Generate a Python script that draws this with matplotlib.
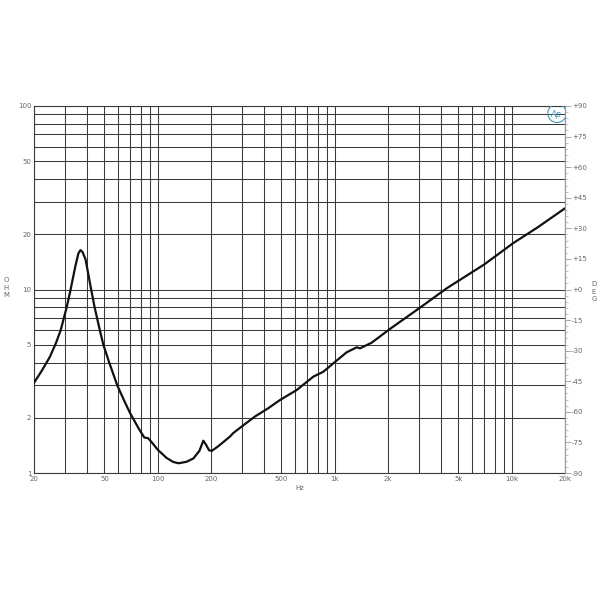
import numpy as np
import matplotlib
matplotlib.use('Agg')
import matplotlib.pyplot as plt
from matplotlib.ticker import FixedLocator, NullFormatter, MultipleLocator
from matplotlib.patches import Ellipse

# Impedance curve (Hz, ohm)
freq = [20, 22.1, 24.6, 26.6, 28.3, 29.5, 30.6, 32.2, 34.2, 35.6, 36.6,
        37.6, 39.1, 40.0, 41.9, 44.0, 47.1, 49.3, 53.2, 59.1, 65,
        70, 78, 84, 88, 92, 100, 112, 122, 131, 145, 159, 172, 181, 188, 195,
        202, 220, 256, 267, 300, 354, 420, 491, 609, 757, 861, 982, 1169, 1331,
        1390, 1617, 2053, 3000, 4290, 7000, 10200, 14000, 20000]
ohm = [3.1, 3.6, 4.3, 5.1, 6.0, 7.0, 8.0, 10.0, 13.3, 15.7, 16.4,
       16.0, 14.6, 13.0, 10.2, 8.0, 6.0, 5.0, 4.0, 3.0, 2.45,
       2.11, 1.75, 1.56, 1.55, 1.48, 1.34, 1.21, 1.15, 1.13, 1.15, 1.2,
       1.32, 1.5, 1.42, 1.33, 1.32, 1.4, 1.58, 1.65, 1.8, 2.03, 2.25, 2.5, 2.83,
       3.35, 3.56, 3.96, 4.55, 4.84, 4.78, 5.13, 6.1, 7.9, 10.15, 13.7, 17.9,
       21.8, 27.7]

# Axis ticks
x_ticks = [20, 50, 100, 200, 500, 1000, 2000, 5000, 10000, 20000]
x_labels = ['20', '50', '100', '200', '500', '1k', '2k', '5k', '10k', '20k']
y_ticks = [1, 2, 5, 10, 20, 50, 100]
y_labels = ['1', '2', '5', '10', '20', '50', '100']
deg_ticks = [90, 75, 60, 45, 30, 15, 0, -15, -30, -45, -60, -75, -90]
deg_labels = ['+90', '+75', '+60', '+45', '+30', '+15', '+0', '-15', '-30',
              '-45', '-60', '-75', '-90']

# grid positions (1-2-3...9 per decade)
x_grid = [m * 10 ** e for e in range(1, 5) for m in range(1, 10)]
x_grid = [v for v in x_grid if 20 <= v <= 20000]
y_grid = [m * 10 ** e for e in range(0, 3) for m in range(1, 10)]
y_grid = [v for v in y_grid if 1 <= v <= 100]

fig = plt.figure(figsize=(6, 6), dpi=100)
ax = fig.add_axes([34 / 600, 1 - 473 / 600, 531 / 600, 367 / 600])

ax.set_xscale('log')
ax.set_yscale('log')
ax.set_xlim(20, 20000)
ax.set_ylim(1, 100)

for v in x_grid:
    ax.axvline(v, color='#3a3a3a', lw=0.75, zorder=1)
for v in y_grid:
    ax.axhline(v, color='#3a3a3a', lw=0.75, zorder=1)

ax.plot(freq, ohm, color='#111111', lw=1.6, zorder=3,
        solid_capstyle='round', solid_joinstyle='round')

txt_col = '#666666'
ax.xaxis.set_major_locator(FixedLocator(x_ticks))
ax.xaxis.set_minor_locator(FixedLocator([]))
ax.set_xticklabels(x_labels)
ax.yaxis.set_major_locator(FixedLocator(y_ticks))
ax.yaxis.set_minor_locator(FixedLocator([]))
ax.yaxis.set_minor_formatter(NullFormatter())
ax.set_yticklabels(y_labels)
ax.tick_params(axis='both', length=0, labelsize=5, colors=txt_col, pad=2)

for s in ax.spines.values():
    s.set_color('#3a3a3a')
    s.set_linewidth(0.8)
ax.spines['right'].set_color('#9a9a9a')

# phase axis on the right
ax2 = ax.twinx()
ax2.set_ylim(-90, 90)
ax2.yaxis.set_major_locator(FixedLocator(deg_ticks))
ax2.set_yticklabels(deg_labels)
ax2.yaxis.set_minor_locator(MultipleLocator(3))
ax2.tick_params(axis='y', which='major', length=4, width=0.6, color='#9a9a9a',
                labelsize=5, labelcolor=txt_col, pad=1)
ax2.tick_params(axis='y', which='minor', length=2, width=0.5, color='#b0b0b0')
for s in ax2.spines.values():
    s.set_visible(False)
ax2.spines['right'].set_visible(True)
ax2.spines['right'].set_color('#9a9a9a')
ax2.spines['right'].set_linewidth(0.8)

# axis titles, letters stacked one above the other
fig.text(300 / 600, 1 - 488 / 600, 'Hz', fontsize=5, color=txt_col, ha='center', va='center')
for i, ch in enumerate('OHM'):
    fig.text(6 / 600, 1 - (280 + i * 7.5) / 600, ch, fontsize=5, color=txt_col,
             ha='center', va='center')
for i, ch in enumerate('DEG'):
    fig.text(594 / 600, 1 - (284 + i * 7.5) / 600, ch, fontsize=5, color=txt_col,
             ha='center', va='center')

# Ap logo
ax.add_patch(Ellipse((0.985, 0.98), 0.035, 0.05, transform=ax.transAxes,
                     fill=False, ec='#3a9ab8', lw=0.8, zorder=4))
ax.text(0.984, 0.978, 'Ap', transform=ax.transAxes, fontsize=6, color='#3a9ab8',
        style='italic', ha='center', va='center', zorder=4)

fig.savefig('out.png', dpi=100, facecolor='white')
